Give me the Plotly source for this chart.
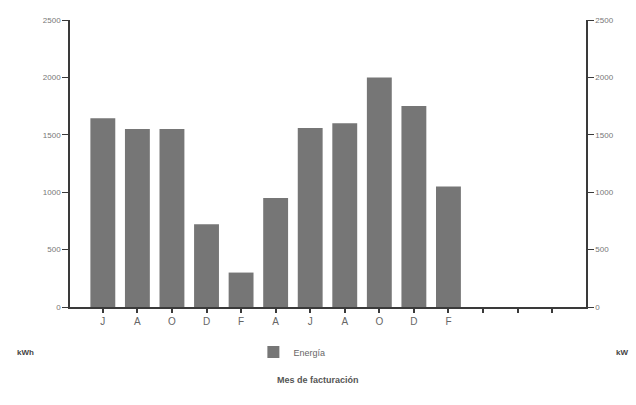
import plotly.graph_objects as go

months = ["J", "A", "O", "D", "F", "A", "J", "A", "O", "D", "F"]
energia = [1645, 1550, 1550, 720, 300, 950, 1560, 1600, 2000, 1750, 1050]
empty_slots = ["", "", ""]
tick_labels = months + empty_slots
y_ticks = [0, 500, 1000, 1500, 2000, 2500]

positions = list(range(len(tick_labels)))
bar_x = positions[:len(energia)]

font_family = "Liberation Sans, Arial, sans-serif"
axis_color = "#3a3a3a"

fig = go.Figure()
fig.add_trace(go.Bar(
    x=bar_x, y=energia, name="Energía",
    marker=dict(color="#767676", line=dict(width=0)),
    width=0.72,
))
fig.add_trace(go.Scatter(
    x=[bar_x[0]], y=[0], yaxis="y2", showlegend=False,
    mode="markers", marker=dict(opacity=0), hoverinfo="skip",
))

fig.update_layout(
    width=636, height=405,
    margin=dict(l=70, r=50, t=20, b=98),
    paper_bgcolor="white", plot_bgcolor="white",
    font=dict(family=font_family, size=9, color="#666"),
    showlegend=True,
    legend=dict(orientation="h", x=0.43, y=-0.157, xanchor="center", yanchor="middle",
                font=dict(size=9, color="#666")),
    xaxis=dict(
        range=[-0.95, 13.98], tickmode="array", tickvals=positions, ticktext=tick_labels,
        showline=True, linecolor=axis_color, linewidth=1.5,
        ticks="outside", ticklen=4, tickcolor=axis_color, tickwidth=1.5,
        showgrid=False, zeroline=False, tickfont=dict(size=10, color="#666"),
    ),
    yaxis=dict(
        range=[0, 2500], tickvals=y_ticks, showline=True, linecolor=axis_color, linewidth=1.5,
        ticks="outside", ticklen=6, tickcolor=axis_color, tickwidth=1,
        showgrid=False, zeroline=False, tickfont=dict(size=8, color="#777"),
    ),
    yaxis2=dict(
        range=[0, 2500], tickvals=y_ticks, overlaying="y", side="right",
        showline=True, linecolor=axis_color, linewidth=1.5,
        ticks="outside", ticklen=6, tickcolor=axis_color, tickwidth=1,
        showgrid=False, zeroline=False, tickfont=dict(size=8, color="#777"),
    ),
    annotations=[
        dict(text="<b>kWh</b>", xref="paper", yref="paper", x=-0.107, y=-0.157, xanchor="left",
             yanchor="middle", showarrow=False, font=dict(size=8, color="#444")),
        dict(text="<b>kW</b>", xref="paper", yref="paper", x=1.085, y=-0.157, xanchor="right",
             yanchor="middle", showarrow=False, font=dict(size=8, color="#444")),
        dict(text="<b>Mes de facturación</b>", xref="paper", yref="paper", x=0.48, y=-0.254,
             xanchor="center", yanchor="middle", showarrow=False,
             font=dict(size=9, color="#555")),
    ],
)

fig.write_html("out.html", post_script="document.body.style.margin='0';",
               config={"displayModeBar": False})
